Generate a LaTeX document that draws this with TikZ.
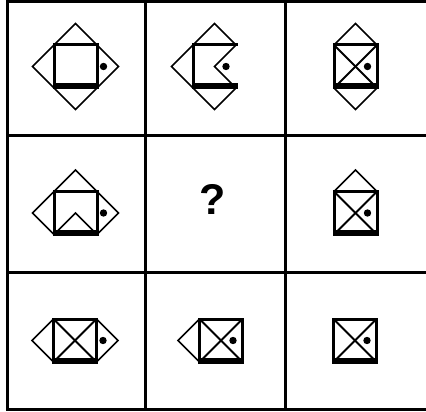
\documentclass[tikz,border=0pt]{standalone}
\usepackage{fontspec}
\setmainfont{Liberation Sans}
\begin{document}
\begin{tikzpicture}[x=1pt,y=-1pt,
  gridline/.style={line width=3pt,black},
  sqline/.style={line width=3pt,black,line join=miter},
  thinline/.style={line width=1.5pt,black,line join=miter},
  xline/.style={line width=1.8pt,black},
  barfill/.style={fill=black},
  dotfill/.style={fill=black}]
\useasboundingbox (0,0) rectangle (426,412);
\def\hh{21.5}
% grid
\draw[gridline] (7.5,0) -- (7.5,411);
\draw[gridline] (145.5,0) -- (145.5,411);
\draw[gridline] (285.5,0) -- (285.5,411);
\draw[gridline] (6,1.5) -- (426,1.5);
\draw[gridline] (6,135.5) -- (426,135.5);
\draw[gridline] (6,272.5) -- (426,272.5);
\draw[gridline] (6,409.5) -- (426,409.5);
% cell 1
\begin{scope}[shift={(75.5,66.5)}]
  \draw[thinline] (-\hh,-\hh) -- (0,-2*\hh) -- (\hh,-\hh);
  \draw[thinline] (-\hh,\hh) -- (0,2*\hh) -- (\hh,\hh);
  \draw[thinline] (-\hh,-\hh) -- (-2*\hh,0) -- (-\hh,\hh);
  \draw[thinline] (\hh,-\hh) -- (2*\hh,0) -- (\hh,\hh);
  \draw[sqline] (-\hh,-\hh) rectangle (\hh,\hh);
  \fill[barfill] (-\hh-1.5,\hh+1.5) rectangle (\hh+1.5,\hh-4.5);
  \fill[dotfill] (28,0) circle (3.7);
\end{scope}
% cell 2
\begin{scope}[shift={(214.5,66.5)}]
  \draw[thinline] (-\hh,-\hh) -- (0,-2*\hh) -- (\hh,-\hh);
  \draw[thinline] (-\hh,\hh) -- (0,2*\hh) -- (\hh,\hh);
  \draw[thinline] (-\hh,-\hh) -- (-2*\hh,0) -- (-\hh,\hh);
  \draw[thinline] (\hh,-\hh) -- (0,0) -- (\hh,\hh);
  \draw[sqline] (\hh+1.5,-\hh) -- (-\hh,-\hh) -- (-\hh,\hh) -- (\hh+1.5,\hh);
  \fill[barfill] (-\hh-1.5,\hh+1.5) rectangle (\hh+1.5,\hh-4.5);
  \fill[dotfill] (11.5,0) circle (3.7);
\end{scope}
% cell 3
\begin{scope}[shift={(355.5,66.5)}]
  \draw[thinline] (-\hh,-\hh) -- (0,-2*\hh) -- (\hh,-\hh);
  \draw[thinline] (-\hh,\hh) -- (0,2*\hh) -- (\hh,\hh);
  \draw[xline] (-\hh,-\hh) -- (\hh,\hh);
  \draw[xline] (\hh,-\hh) -- (-\hh,\hh);
  \draw[sqline] (-\hh,-\hh) rectangle (\hh,\hh);
  \fill[barfill] (-\hh-1.5,\hh+1.5) rectangle (\hh+1.5,\hh-4.5);
  \fill[dotfill] (12,0) circle (3.7);
\end{scope}
% cell 4
\begin{scope}[shift={(75.5,213)}]
  \draw[thinline] (-\hh,-\hh) -- (0,-2*\hh) -- (\hh,-\hh);
  \draw[thinline] (-\hh,\hh) -- (0,0) -- (\hh,\hh);
  \draw[thinline] (-\hh,-\hh) -- (-2*\hh,0) -- (-\hh,\hh);
  \draw[thinline] (\hh,-\hh) -- (2*\hh,0) -- (\hh,\hh);
  \draw[sqline] (-\hh,-\hh) rectangle (\hh,\hh);
  \fill[barfill] (-\hh-1.5,\hh+1.5) rectangle (\hh+1.5,\hh-4.5);
  \fill[dotfill] (28,0) circle (3.7);
\end{scope}
% cell 5
\node[font=\bfseries\fontsize{43}{43}\selectfont,inner sep=0pt,anchor=base] (q) at (213,214) {?};
% cell 6
\begin{scope}[shift={(355.5,213)}]
  \draw[thinline] (-\hh,-\hh) -- (0,-2*\hh) -- (\hh,-\hh);
  \draw[xline] (-\hh,-\hh) -- (\hh,\hh);
  \draw[xline] (\hh,-\hh) -- (-\hh,\hh);
  \draw[sqline] (-\hh,-\hh) rectangle (\hh,\hh);
  \fill[barfill] (-\hh-1.5,\hh+1.5) rectangle (\hh+1.5,\hh-4.5);
  \fill[dotfill] (12,0) circle (3.7);
\end{scope}
% cell 7
\begin{scope}[shift={(75,340.5)}]
  \draw[thinline] (-\hh,-\hh) -- (-2*\hh,0) -- (-\hh,\hh);
  \draw[thinline] (\hh,-\hh) -- (2*\hh,0) -- (\hh,\hh);
  \draw[xline] (-\hh,-\hh) -- (\hh,\hh);
  \draw[xline] (\hh,-\hh) -- (-\hh,\hh);
  \draw[sqline] (-\hh,-\hh) rectangle (\hh,\hh);
  \fill[barfill] (-\hh-1.5,\hh+1.5) rectangle (\hh+1.5,\hh-4.5);
  \fill[dotfill] (28,0) circle (3.7);
\end{scope}
% cell 8
\begin{scope}[shift={(221,340.5)}]
  \draw[thinline] (-\hh,-\hh) -- (-2*\hh,0) -- (-\hh,\hh);
  \draw[xline] (-\hh,-\hh) -- (\hh,\hh);
  \draw[xline] (\hh,-\hh) -- (-\hh,\hh);
  \draw[sqline] (-\hh,-\hh) rectangle (\hh,\hh);
  \fill[barfill] (-\hh-1.5,\hh+1.5) rectangle (\hh+1.5,\hh-4.5);
  \fill[dotfill] (12,0) circle (3.7);
\end{scope}
% cell 9
\begin{scope}[shift={(355,340.5)}]
  \draw[xline] (-\hh,-\hh) -- (\hh,\hh);
  \draw[xline] (\hh,-\hh) -- (-\hh,\hh);
  \draw[sqline] (-\hh,-\hh) rectangle (\hh,\hh);
  \fill[barfill] (-\hh-1.5,\hh+1.5) rectangle (\hh+1.5,\hh-4.5);
  \fill[dotfill] (12,0) circle (3.7);
\end{scope}
\end{tikzpicture}
\end{document}
